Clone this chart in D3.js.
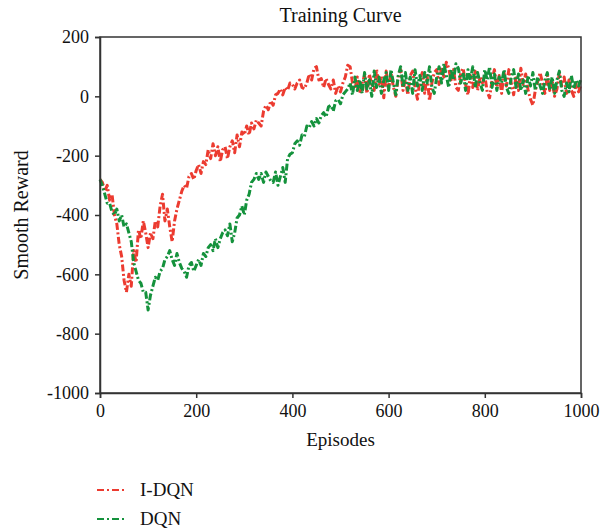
<!DOCTYPE html>
<html>
<head>
<meta charset="utf-8">
<script src="https://cdn.jsdelivr.net/npm/d3@7"></script>
<style>
	body { margin: 0; background: #fff; }
	text { font-family: "Liberation Serif", "DejaVu Serif", serif; fill: #111; }
	.axis path, .axis line { stroke: #333; }
</style>
</head>
<body>
<div id="container"></div>
<script>
// episodes sampled every 5 steps, 0 .. 1000
var episodes = d3.range(0, 1001, 5);

var idqn = [
	-280, -290, -320, -300, -350, -330, -400, -430, -500, -540,
	-620, -660, -600, -640, -520, -560, -450, -480, -420, -460,
	-510, -460, -480, -420, -440, -370, -330, -420, -380, -440,
	-490, -420, -380, -350, -320, -300, -310, -270, -260, -280,
	-250, -230, -260, -220, -230, -180, -210, -160, -200, -170,
	-220, -180, -170, -210, -170, -150, -190, -130, -170, -120,
	-130, -100, -130, -90, -110, -80, -90, -100, -50, -30,
	-45, -15, -30, 5, 10, 25, 5, 30, 20, 45,
	40, 25, 45, 55, 30, 25, 45, 75, 55, 95,
	100, 55, 60, 30, 60, 40, 25, 55, 10, 35,
	15, 45, 65, 105, 100, 45, 25, 65, 10, 45,
	70, 10, 75, 40, 20, 90, 35, 70, -5, 85,
	25, 80, 30, 0, 65, 90, 20, 55, 5, 70,
	85, 30, -10, 55, 80, 10, 70, -15, 45, 80,
	90, 40, 100, 65, 115, 95, 50, 90, 30, 20,
	80, 95, 40, 5, 70, 30, 85, 20, 65, 45,
	70, 15, -5, 55, 90, 30, 70, 10, 80, 35,
	90, 45, 5, 70, 20, 95, 40, 75, 20, -10,
	-30, 20, 50, 80, 45, 10, 70, 20, 55, 0,
	25, 80, 35, 65, 10, 55, 20, 0, 45, 15,
	40
];

var dqn = [
	-280, -300, -330, -360, -360, -390, -400, -380, -420, -400,
	-440, -430, -460, -490, -560, -590, -620, -630, -660, -660,
	-720, -670, -640, -610, -620, -590, -580, -550, -540, -520,
	-550, -570, -530, -560, -580, -590, -610, -570, -560, -590,
	-570, -550, -570, -530, -540, -510, -500, -520, -480, -510,
	-480, -460, -450, -470, -430, -490, -460, -410, -400, -370,
	-400, -350, -330, -290, -280, -260, -280, -260, -290, -255,
	-270, -285, -290, -255, -300, -270, -240, -290, -210, -195,
	-190, -160, -150, -165, -130, -135, -100, -105, -85, -100,
	-75, -90, -65, -55, -70, -35, -30, -50, -15, -10,
	-25, 5, 15, 25, 45, 5, 65, 20, 55, 10,
	80, 25, 55, 0, 85, 30, 65, 10, 55, 80,
	20, 90, 45, 5, 70, 100, 30, 80, 20, 65,
	10, 90, 35, 70, 20, 80, 45, 100, 30, 10,
	65, 100, 45, 110, 70, 30, 90, 55, 110, 95,
	45, 80, 20, 90, 55, 100, 30, 80, 45, 20,
	90, 55, 100, 30, 75, 20, 65, 45, 90, 30,
	10, 65, 90, 30, 75, 20, 55, 10, 70, 35,
	80, 20, 65, 35, 10, 55, 80, 20, 65, 10,
	55, 85, 20, 0, 45, 15, 70, 25, 55, 35,
	60
];

var series_names = ["I-DQN", "DQN"];
var series_colors = ["#ec3b30", "#14923c"];
var x_ticks = [0, 200, 400, 600, 800, 1000];
var y_ticks = [200, 0, -200, -400, -600, -800, -1000];

function training_curve(){

	var margin = {top: 37, right: 33, bottom: 138, left: 100},
		width = 614 - (margin.left + margin.right),
		height = 531 - (margin.top + margin.bottom);

	var svg = d3.select("#container")
		.append("svg")
		.attr("width", 614)
		.attr("height", 531);

	var plot = svg.append("g")
		.attr("transform", "translate(" + margin.left + "," + margin.top + ")");

	// scale
	var x = d3.scaleLinear().domain([0, 1000]).range([0, width]);
	var y = d3.scaleLinear().domain([-1000, 200]).range([height, 0]);

	var line = d3.line()
		.x(function(d) { return x(d[0]); })
		.y(function(d) { return y(d[1]); });

	var all = [idqn, dqn];
	all.forEach(function(vals, i){
		plot.append("path")
			.datum(episodes.map(function(e, k){ return [e, vals[k]]; }))
			.attr("fill", "none")
			.attr("stroke", series_colors[i])
			.attr("stroke-width", 3)
			.attr("stroke-linejoin", "round")
			.attr("stroke-dasharray", "7,2.5,2,2.5")
			.attr("d", line);
	});

	// frame
	plot.append("rect")
		.attr("width", width)
		.attr("height", height)
		.attr("fill", "none")
		.attr("stroke", "#333")
		.attr("stroke-width", 1.5);

	// axis
	var xAxis = plot.append("g")
		.attr("class", "axis")
		.attr("transform", "translate(0," + height + ")")
		.call(d3.axisBottom(x)
			.tickValues(x_ticks)
			.tickSize(5)
			.tickPadding(6)
			.tickFormat(function(d) { return String(d); })
		);

	var yAxis = plot.append("g")
		.attr("class", "axis")
		.call(d3.axisLeft(y)
			.tickValues(y_ticks)
			.tickSize(5)
			.tickPadding(6)
			.tickFormat(function(d) { return String(d); })
		);

	plot.selectAll(".axis path").attr("stroke-width", 1.5);
	plot.selectAll(".axis line").attr("stroke-width", 1.5);
	plot.selectAll(".axis text")
		.style("font-family", "Liberation Serif, serif")
		.style("font-size", "18px")
		.attr("fill", "#111");

	// titles
	svg.append("text")
		.attr("x", margin.left + width / 2)
		.attr("y", 22)
		.attr("text-anchor", "middle")
		.style("font-size", "20px")
		.text("Training Curve");

	svg.append("text")
		.attr("x", margin.left + width / 2)
		.attr("y", 446)
		.attr("text-anchor", "middle")
		.style("font-size", "19px")
		.text("Episodes");

	svg.append("text")
		.attr("transform", "translate(28," + (margin.top + height / 2) + ") rotate(-90)")
		.attr("text-anchor", "middle")
		.style("font-size", "20px")
		.text("Smooth Reward");

	// legend
	var legend = svg.selectAll(".legend")
		.data(series_names)
		.enter()
		.append("g")
		.attr("class", "legend")
		.attr("transform", function(d, i) { return "translate(97," + (490 + i * 29) + ")"; });

	legend.append("line")
		.attr("x1", 0)
		.attr("x2", 30)
		.attr("stroke", function(d, i) { return series_colors[i]; })
		.attr("stroke-width", 2)
		.attr("stroke-dasharray", "7,3,2,3");

	legend.append("text")
		.attr("x", 43)
		.attr("y", 6)
		.style("font-size", "19px")
		.text(function(d) { return d; });
}

training_curve();
</script>
</body>
</html>
